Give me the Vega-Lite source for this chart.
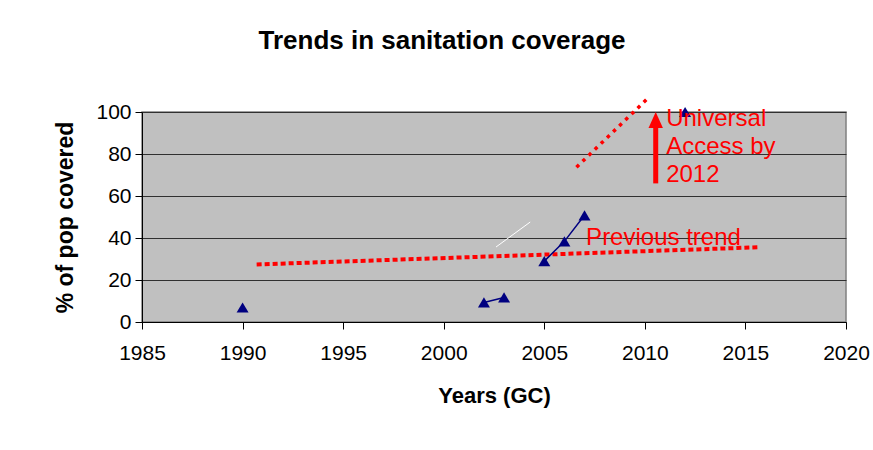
{
  "$schema": "https://vega.github.io/schema/vega-lite/v6.json",
  "autosize": "none",
  "width": 704,
  "height": 210,
  "padding": {"left": 142, "top": 112, "right": 27, "bottom": 128},
  "background": "white",
  "config": {
    "font": "Liberation Sans",
    "view": {"fill": "#C0C0C0", "stroke": "#808080", "strokeWidth": 1.5}
  },
  "title": {
    "text": "Trends in sanitation coverage",
    "fontSize": 26,
    "fontWeight": "bold",
    "color": "black",
    "anchor": "middle",
    "dx": -52,
    "baseline": "alphabetic",
    "offset": 15
  },
  "datasets": {
    "obs": [
      {"year": 1990, "pct": 6.9, "grp": "a"},
      {"year": 2002, "pct": 9.3, "grp": "b"},
      {"year": 2003, "pct": 11.7, "grp": "b"},
      {"year": 2005, "pct": 29, "grp": "c"},
      {"year": 2006, "pct": 38.4, "grp": "c"},
      {"year": 2007, "pct": 50.8, "grp": "c"},
      {"year": 2012, "pct": 100, "grp": "d"}
    ],
    "trend": [
      {"year": 1990.7, "pct": 27.4},
      {"year": 2015.7, "pct": 35.6}
    ],
    "target": [
      {"year": 2006.6, "pct": 73.7},
      {"year": 2010.2, "pct": 107}
    ],
    "white": [
      {"year": 2002.6, "pct": 35.7},
      {"year": 2004.3, "pct": 47.6}
    ],
    "arrow": [
      {"year": 2010.54, "pct": 66},
      {"year": 2010.54, "pct": 93}
    ],
    "head": [
      {"year": 2010.54, "pct": 96.2}
    ],
    "notes": [
      {"year": 2011.06, "pct": 93.3, "label": "Universal\nAccess by\n2012"},
      {"year": 2007.08, "pct": 36.7, "label": "Previous trend"}
    ]
  },
  "encoding": {
    "x": {
      "field": "year",
      "type": "quantitative",
      "scale": {"domain": [1985, 2020], "nice": false, "zero": false},
      "axis": {
        "title": "Years (GC)",
        "values": [1985, 1990, 1995, 2000, 2005, 2010, 2015, 2020],
        "format": "d",
        "grid": false,
        "labelFlush": false,
        "domainColor": "black",
        "tickColor": "black",
        "tickSize": 7,
        "labelFontSize": 21,
        "labelColor": "black",
        "labelPadding": 13,
        "titleFontSize": 22,
        "titleFontWeight": "bold",
        "titleColor": "black",
        "titleBaseline": "alphabetic",
        "titleY": 80
      }
    },
    "y": {
      "field": "pct",
      "type": "quantitative",
      "scale": {"domain": [0, 100], "nice": false},
      "axis": {
        "title": "% of pop covered",
        "values": [0, 20, 40, 60, 80, 100],
        "gridColor": "#303030",
        "gridWidth": 1,
        "domainColor": "black",
        "tickColor": "black",
        "tickSize": 7,
        "labelFontSize": 21,
        "labelColor": "black",
        "labelPadding": 4,
        "titleFontSize": 23,
        "titleFontWeight": "bold",
        "titleColor": "black",
        "titleAngle": -90,
        "titleBaseline": "alphabetic",
        "titleAlign": "center",
        "titleX": -70,
        "titleY": 105
      }
    }
  },
  "layer": [
    {
      "data": {"name": "white"},
      "mark": {"type": "line", "color": "white", "strokeWidth": 1},
      "encoding": {}
    },
    {
      "data": {"name": "trend"},
      "mark": {"type": "line", "color": "#FF0000", "strokeWidth": 4, "strokeDash": [5, 3]},
      "encoding": {}
    },
    {
      "data": {"name": "target"},
      "mark": {"type": "line", "color": "#FF0000", "strokeWidth": 3.5, "strokeDash": [3.5, 5]},
      "encoding": {}
    },
    {
      "data": {"name": "obs"},
      "mark": {"type": "line", "color": "#000080", "strokeWidth": 1.5},
      "encoding": {"detail": {"field": "grp"}}
    },
    {
      "data": {"name": "obs"},
      "mark": {"type": "point", "shape": "M0,-0.85L1,0.85L-1,0.85Z", "filled": true, "color": "#000080", "opacity": 1, "size": 144},
      "encoding": {}
    },
    {
      "data": {"name": "arrow"},
      "mark": {"type": "line", "color": "#FF0000", "strokeWidth": 5},
      "encoding": {}
    },
    {
      "data": {"name": "head"},
      "mark": {"type": "point", "shape": "M0,-1L0.9,1L-0.9,1Z", "filled": true, "color": "#FF0000", "opacity": 1, "size": 256},
      "encoding": {}
    },
    {
      "data": {"name": "notes"},
      "mark": {"type": "text", "color": "#FF0000", "fontSize": 24, "align": "left", "baseline": "alphabetic", "lineBreak": "\n", "lineHeight": 28},
      "encoding": {"text": {"field": "label"}}
    }
  ]
}
